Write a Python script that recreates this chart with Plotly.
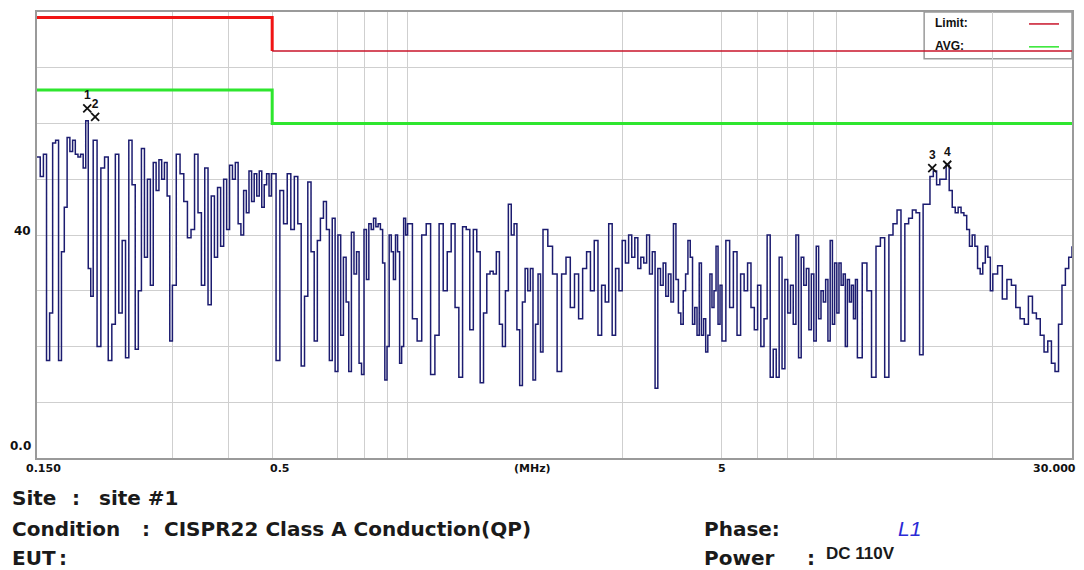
import math
import plotly.graph_objects as go

# ---------------- data ----------------
freq_mhz = [
    0.150, 0.1525, 0.155, 0.1575, 0.160, 0.1625, 0.165, 0.1675, 0.170, 0.1725,
    0.175, 0.1775, 0.180, 0.1825, 0.185, 0.1875, 0.190, 0.1925, 0.195, 0.1975, 0.200,
    0.204, 0.208, 0.212, 0.216, 0.220, 0.224, 0.228, 0.232, 0.236, 0.240,
    0.244, 0.248, 0.252, 0.256, 0.260, 0.264, 0.268, 0.272, 0.276, 0.280,
    0.284, 0.288, 0.292, 0.296, 0.300,
    0.306, 0.312, 0.318, 0.324, 0.330, 0.336, 0.342, 0.348, 0.354, 0.360,
    0.366, 0.372, 0.378, 0.384, 0.390, 0.396, 0.402, 0.408, 0.414, 0.420,
    0.426, 0.432, 0.438, 0.444, 0.450, 0.456, 0.462, 0.468, 0.474, 0.480,
    0.486, 0.492, 0.498,
    0.51, 0.52, 0.53, 0.54, 0.55, 0.56, 0.57, 0.58, 0.59, 0.60,
    0.61, 0.62, 0.63, 0.64, 0.65, 0.66, 0.67, 0.68, 0.69, 0.70,
    0.71, 0.72, 0.73, 0.74, 0.75, 0.76, 0.77, 0.78, 0.79, 0.80,
    0.81, 0.82, 0.83, 0.84, 0.85, 0.86, 0.87, 0.88, 0.89, 0.90,
    0.91, 0.92, 0.93, 0.94, 0.95, 0.96, 0.97, 0.98, 0.99, 1.00,
    1.025, 1.05, 1.075, 1.10, 1.125, 1.15, 1.175, 1.20, 1.225, 1.25,
    1.275, 1.30, 1.325, 1.35, 1.375, 1.40, 1.425, 1.45, 1.475, 1.50,
    1.525, 1.55, 1.575, 1.60, 1.625, 1.65, 1.675, 1.70, 1.725, 1.75,
    1.775, 1.80, 1.825, 1.85, 1.875, 1.90, 1.925, 1.95, 1.975, 2.00,
    2.05, 2.10, 2.15, 2.20, 2.25, 2.30, 2.35, 2.40, 2.45, 2.50,
    2.55, 2.60, 2.65, 2.70, 2.75, 2.80, 2.85, 2.90, 2.95, 3.00,
    3.05, 3.10, 3.15, 3.20, 3.25, 3.30, 3.35, 3.40, 3.45, 3.50,
    3.55, 3.60, 3.65, 3.70, 3.75, 3.80, 3.85, 3.90, 3.95, 4.00,
    4.05, 4.10, 4.15, 4.20, 4.25, 4.30, 4.35, 4.40, 4.45, 4.50,
    4.55, 4.60, 4.65, 4.70, 4.75, 4.80, 4.85, 4.90, 4.95, 5.00,
    5.1, 5.2, 5.3, 5.4, 5.5, 5.6, 5.7, 5.8, 5.9, 6.0,
    6.1, 6.2, 6.3, 6.4, 6.5, 6.6, 6.7, 6.8, 6.9, 7.0,
    7.1, 7.2, 7.3, 7.4, 7.5, 7.6, 7.7, 7.8, 7.9, 8.0,
    8.1, 8.2, 8.3, 8.4, 8.5, 8.6, 8.7, 8.8, 8.9, 9.0,
    9.1, 9.2, 9.3, 9.4, 9.5, 9.6, 9.7, 9.8, 9.9, 10.0,
    10.25, 10.5, 10.75, 11.0, 11.25, 11.5, 11.75, 12.0, 12.25, 12.5,
    12.75, 13.0, 13.25, 13.5, 13.75, 14.0, 14.25, 14.5, 14.75, 15.0,
    15.25, 15.5, 15.75, 16.0, 16.25, 16.5, 16.75, 17.0, 17.25, 17.5,
    17.75, 18.0, 18.25, 18.5, 18.75, 19.0, 19.25, 19.5, 19.75, 20.0,
    20.5, 21.0, 21.5, 22.0, 22.5, 23.0, 23.5, 24.0, 24.5, 25.0,
    25.5, 26.0, 26.5, 27.0, 27.5, 28.0, 28.5, 29.0, 29.5, 30.0,
]

level_dbuv = [
    54, 50.5, 54.5, 17.5, 26, 56.5, 57, 17.5, 37, 45,
    57.5, 55, 57, 54.5, 54, 54.5, 52, 60.5, 34, 29, 57,
    20, 52, 54, 17.5, 24, 54.5, 26, 39, 18, 57,
    49, 19.5, 30, 55.5, 36, 50, 31, 53, 48, 53.5,
    50, 53, 47, 21, 31,
    54.5, 51, 46, 39.5, 41, 54.5, 44, 31, 52, 27.5,
    47, 36, 48.5, 38, 50, 41, 52.5, 50, 53, 42,
    40, 48, 44, 51.5, 46, 51, 47, 51.5, 45, 49,
    51, 47, 51,
    17.5, 48, 42, 51, 41, 50.5, 42, 16.5, 29, 49.5,
    37, 21, 39, 43, 46, 41, 17.5, 43, 15.5, 40,
    22, 36, 28, 15.5, 40.5, 33, 37, 17, 15, 41,
    32, 42, 41, 43, 41.5, 42, 41, 35, 14, 20,
    40, 37, 32, 40, 37, 17, 20, 43, 40, 42,
    25, 21, 40, 42, 15, 22, 42, 30, 37, 42,
    27, 14.5, 41.5, 41, 23, 41, 37, 13.5, 26, 33,
    33.5, 33, 37, 24, 20, 30, 45.5, 40, 42, 23,
    13, 28, 34, 30, 34, 14, 24, 33, 19, 41,
    38, 33, 15.5, 33, 36, 27, 33, 25, 34, 37,
    30, 39, 22, 31, 28, 42, 22, 34, 30, 39,
    35, 40, 36, 39.5, 34, 36, 35, 40, 33, 37,
    12.5, 34, 31, 35, 29, 33, 28, 42, 32, 26,
    24, 30, 33, 39, 36, 24, 27, 22, 35, 22,
    25, 19, 22, 33, 27, 30, 38, 24, 31, 21,
    39, 27, 37, 22, 33, 30, 35, 27, 23, 31,
    20, 25, 40, 14.5, 19.5, 14.5, 36, 16, 32, 26,
    31, 24, 40, 18, 36, 31, 34, 23, 33, 21,
    38, 25, 30, 28, 32, 21, 39, 24, 35, 26,
    35, 31, 33, 20, 32, 28, 31, 25, 32, 18,
    35, 30, 14.5, 38, 39.5, 14.5, 40, 42, 44.5, 21,
    42, 43, 44.5, 44, 18.5, 45.5, 45.5, 50.5, 51.5, 49,
    50, 50, 52.5, 48, 45, 44, 45, 44, 43.5, 41,
    38, 40, 38, 34, 33, 35, 38, 36, 30, 33,
    34.5, 28.5, 32, 31, 27, 25, 24, 29, 26, 25,
    22, 19, 21, 17, 15.5, 24, 31, 34, 36, 38,
]

limit_freq_low = [0.15, 0.5, 0.5]
limit_freq_high = [0.5, 30.0]
qp_limit_low = [79, 79, 73]
qp_limit_high = [73, 73]
avg_limit_freq = [0.15, 0.5, 0.5, 30.0]
avg_limit = [66, 66, 60, 60]

marker_freq = [0.194, 0.202, 14.67, 15.84]
marker_level = [62.7, 61.2, 52.0, 52.6]
marker_label = ["1", "2", "3", "4"]

grid_freqs = [0.3, 0.4, 0.5, 0.7, 0.8, 0.9, 1, 3, 5, 6, 7, 8, 9, 20]
x_tick_labels = ["0.150", "0.5", "(MHz)", "5", "30.000"]
x_tick_pos = [0.15, 0.5, 1.9, 5, 30]
y_tick_labels = ["40", "0.0"]
y_tick_pos = [40, 0]

# ---------------- figure ----------------
W, H = 1084, 570
L, R, T, B = 37, 11, 10, 112
PW, PH = W - L - R, H - T - B


def px(xp):
    return (xp - L) / PW


def py(yp):
    return (H - B - yp) / PH


fig = go.Figure()

fig.add_trace(go.Scatter(
    x=freq_mhz, y=level_dbuv, mode="lines",
    line=dict(color="#1c1c70", width=1.5, shape="hv"),
    hoverinfo="skip",
))

fig.add_trace(go.Scatter(
    x=limit_freq_low, y=qp_limit_low, mode="lines",
    line=dict(color="#f01414", width=3),
))
fig.add_trace(go.Scatter(
    x=limit_freq_high, y=qp_limit_high, mode="lines",
    line=dict(color="#c8142a", width=1.6),
))
fig.add_trace(go.Scatter(
    x=avg_limit_freq, y=avg_limit, mode="lines",
    line=dict(color="#2ee62e", width=3),
))

fig.add_trace(go.Scatter(
    x=marker_freq, y=marker_level, mode="markers+text",
    marker=dict(symbol="x-thin", size=8, line=dict(color="#111111", width=1.8)),
    text=["<b>%s</b>" % m for m in marker_label], textposition="top center",
    textfont=dict(family="Liberation Sans", size=12, color="#111111"),
))

fig.update_layout(
    width=W, height=H,
    margin=dict(l=L, r=R, t=T, b=B),
    paper_bgcolor="white", plot_bgcolor="white",
    showlegend=False,
)

fig.update_xaxes(
    type="log",
    range=[math.log10(0.15), math.log10(30)],
    tickvals=grid_freqs, showticklabels=False, ticks="",
    showgrid=True, gridcolor="#cfcfcf", gridwidth=1,
    showline=True, mirror=True, linecolor="#9a9a9a", linewidth=2,
    zeroline=False,
)
fig.update_yaxes(
    range=[0, 80], tickvals=[10, 20, 30, 40, 50, 60, 70],
    showticklabels=False, ticks="",
    showgrid=True, gridcolor="#cfcfcf", gridwidth=1,
    showline=True, mirror=True, linecolor="#9a9a9a", linewidth=2,
    zeroline=False,
)

annotations = []
# x tick labels
x_shifts = [6, 8, 0, 0, -18]
for lab, pos, sh in zip(x_tick_labels, x_tick_pos, x_shifts):
    annotations.append(dict(
        x=math.log10(pos), xref="x", y=0, yref="paper",
        yanchor="top", xanchor="center", xshift=sh, yshift=-2,
        text="<b>%s</b>" % lab, showarrow=False,
        font=dict(family="DejaVu Sans", size=11, color="#111111"),
    ))
# y tick labels
y_shifts = [4, 12]
for lab, pos, sh in zip(y_tick_labels, y_tick_pos, y_shifts):
    annotations.append(dict(
        x=0, xref="paper", y=pos, yref="y",
        xanchor="right", yanchor="middle", xshift=-4, yshift=sh,
        text="<b>%s</b>" % lab, showarrow=False,
        font=dict(family="DejaVu Sans", size=12, color="#111111"),
    ))

# legend box texts
annotations.append(dict(x=px(934), y=py(21), xref="paper", yref="paper",
                        xanchor="left", yanchor="middle", showarrow=False,
                        text="<b>Limit:</b>",
                        font=dict(family="Liberation Sans", size=12, color="#111111")))
annotations.append(dict(x=px(934), y=py(44), xref="paper", yref="paper",
                        xanchor="left", yanchor="middle", showarrow=False,
                        text="<b>AVG:</b>",
                        font=dict(family="Liberation Sans", size=12, color="#111111")))

# bottom info block
info_font = dict(family="DejaVu Sans", size=20, color="#1a1a1a")


def info(text, xp, yp, font=None):
    annotations.append(dict(x=px(xp), y=py(yp), xref="paper", yref="paper",
                            xanchor="left", yanchor="middle", showarrow=False,
                            text=text, font=font or info_font))


info("<b>Site</b>", 10, 498)
info("<b>:</b>", 70, 498)
info("<b>site #1</b>", 97, 498)
info("<b>Condition</b>", 10, 529)
info("<b>:</b>", 140, 529)
info("<b>CISPR22 Class A Conduction(QP)</b>", 162, 529)
info("<b>EUT</b>", 10, 558)
info("<b>:</b>", 57, 558)
info("<b>Phase:</b>", 703, 529)
info("<i>L1</i>", 897, 529, dict(family="Liberation Sans", size=21, color="#2a2ad6"))
info("<b>Power</b>", 703, 558)
info("<b>:</b>", 806, 558)
info("<b>DC 110V</b>", 825, 554, dict(family="Liberation Sans", size=17, color="#1a1a1a"))

fig.update_layout(annotations=annotations)

# legend frame and swatches
fig.add_shape(type="rect", xref="paper", yref="paper",
              x0=px(925), x1=px(1073), y0=py(57), y1=py(10),
              fillcolor="white", line=dict(color="#9a9a9a", width=1.5),
              layer="between")
fig.add_shape(type="line", xref="paper", yref="paper",
              x0=px(1030), x1=px(1060), y0=py(22), y1=py(22),
              line=dict(color="#c8142a", width=1.5))
fig.add_shape(type="line", xref="paper", yref="paper",
              x0=px(1030), x1=px(1060), y0=py(45), y1=py(45),
              line=dict(color="#2ee62e", width=1.5))

fig.write_html("out.html")
